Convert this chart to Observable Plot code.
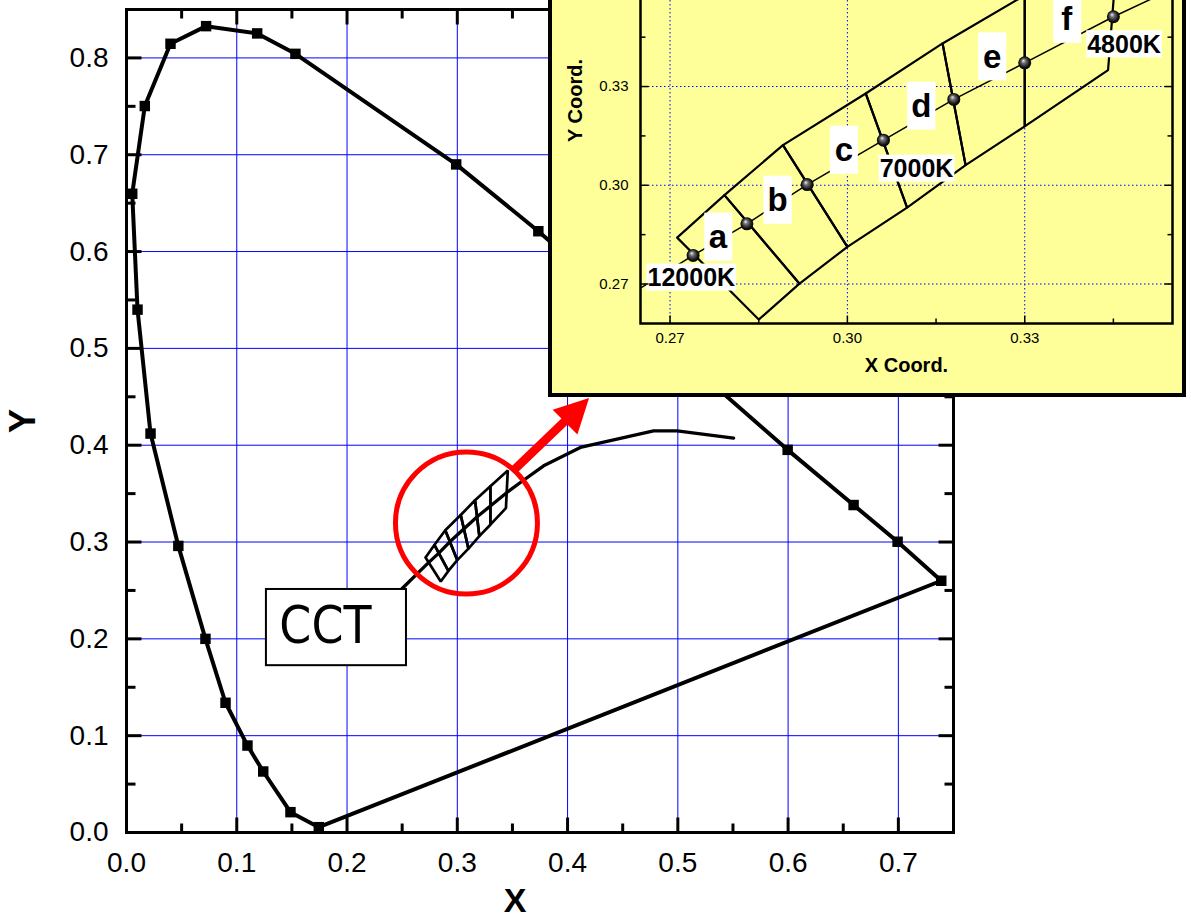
<!DOCTYPE html>
<html><head><meta charset="utf-8">
<script src="https://cdn.jsdelivr.net/npm/d3@7"></script>
<script src="https://cdn.jsdelivr.net/npm/@observablehq/plot@0.6"></script>
<style>
body{margin:0;background:#fff;overflow:hidden;}
#wrap{position:relative;width:1191px;height:919px;overflow:hidden;background:#fff;}
#main{position:absolute;left:0;top:0;}
#inset{position:absolute;left:548px;top:-60px;width:638px;height:457px;box-sizing:border-box;border:4px solid #000;background:#ffff99;}
#inset svg, #main svg{display:block;}
</style></head><body>
<div id="wrap"><div id="main"></div><div id="inset"></div></div>
<script>
const font = "'Liberation Sans', Arial, Helvetica, sans-serif";

// ---- data ----
const locusX = [0.1744, 0.1487, 0.124, 0.1097, 0.0898, 0.0716, 0.047, 0.0218, 0.010, 0.0052, 0.0166, 0.0399, 0.0722, 0.1185, 0.1532, 0.299, 0.3735, 0.5996, 0.6594, 0.6993, 0.7389];
const locusY = [0.0055, 0.0210, 0.063, 0.0898, 0.134, 0.200, 0.296, 0.412, 0.540, 0.6597, 0.7503, 0.8146, 0.8328, 0.8253, 0.8042, 0.690, 0.621, 0.3952, 0.3382, 0.3003, 0.2600];
const purpleX = [0.1744, 0.7389];
const purpleY = [0.0055, 0.2600];

const planckX = [0.250, 0.2739, 0.2830, 0.2932, 0.3061, 0.3180, 0.3300, 0.3450, 0.3572, 0.3783, 0.4116, 0.4780, 0.4993, 0.5506];
const planckY = [0.252, 0.2787, 0.2883, 0.3002, 0.3137, 0.3261, 0.3372, 0.3512, 0.3615, 0.3787, 0.3977, 0.4149, 0.4149, 0.4073];

const cctDotX = [0.2739, 0.2830, 0.2932, 0.3061, 0.3180, 0.3300, 0.3450];
const cctDotY = [0.2787, 0.2883, 0.3002, 0.3137, 0.3261, 0.3372, 0.3512];

const binNames = ["a", "b", "c", "d", "e", "f"];
const upperX = [0.2712, 0.2792, 0.2891, 0.3031, 0.3161, 0.3300, 0.3458];
const upperY = [0.2841, 0.2970, 0.3122, 0.3279, 0.3431, 0.3577, 0.3740];
const lowerX = [0.2850, 0.2919, 0.3000, 0.3101, 0.3200, 0.3300, 0.3441];
const lowerY = [0.2592, 0.2701, 0.2813, 0.2932, 0.3061, 0.3179, 0.3350];
const binLabelX = [0.2781, 0.2882, 0.2994, 0.3125, 0.3245, 0.3371];
const binLabelY = [0.2841, 0.2953, 0.3105, 0.3239, 0.3389, 0.3503];

const tempNames = ["12000K", "7000K", "4800K"];
const tempX = [0.2736, 0.3117, 0.3468];
const tempY = [0.2718, 0.3049, 0.3427];

const cctBox = {x1: 0.1269, x2: 0.2539, y1: 0.1723, y2: 0.2510};
const cctText = {label: "CCT", x: 0.1804, y: 0.2121};
const zoomCircle = {x: 0.3083, y: 0.3197};
const arrowSeg = {x1: 0.351, y1: 0.374, x2: 0.4195, y2: 0.4487};

const mainXTicks = [0, 0.1, 0.2, 0.3, 0.4, 0.5, 0.6, 0.7];
const mainXMinor = [0.05, 0.15, 0.25, 0.35, 0.45, 0.55, 0.65];
const mainYTicks = [0, 0.1, 0.2, 0.3, 0.4, 0.5, 0.6, 0.7, 0.8];
const mainYMinor = [0.05, 0.15, 0.25, 0.35, 0.45, 0.55, 0.65, 0.75];
const insetTicks = [0.27, 0.30, 0.33];
const insetMinor = [0.285, 0.315, 0.345];

// ---- derived tables ----
const locus = locusX.map((x, i) => ({x, y: locusY[i]}));
const purple = purpleX.map((x, i) => ({x, y: purpleY[i]}));
const planck = planckX.map((x, i) => ({x, y: planckY[i]}));
const cctDots = cctDotX.map((x, i) => ({x, y: cctDotY[i]}));
const binRows = binNames.flatMap((b, i) => [
  [upperX[i], upperY[i]], [upperX[i + 1], upperY[i + 1]],
  [lowerX[i + 1], lowerY[i + 1]], [lowerX[i], lowerY[i]], [upperX[i], upperY[i]]
].map(([x, y]) => ({bin: b, x, y})));
const binLabels = binNames.map((t, i) => ({t, x: binLabelX[i], y: binLabelY[i]}));
const tempLabels = tempNames.map((t, i) => ({t, x: tempX[i], y: tempY[i]}));

const tickShape = {draw(ctx, l) { ctx.moveTo(0, 0); ctx.lineTo(0, -l); }};
function frameTicks(xd, yd, xMaj, xMin, yMaj, yMin, major, minor, sw) {
  const c = {stroke: "black", fill: "none", strokeWidth: sw, anchor: "start", shape: tickShape, strokeLinecap: "butt"};
  const out = [];
  for (const [vals, len] of [[xMaj, major], [xMin, minor]]) {
    out.push(Plot.vector(vals, {x: d => d, y: yd[0], length: len, rotate: 0, ...c}));
    out.push(Plot.vector(vals, {x: d => d, y: yd[1], length: len, rotate: 180, ...c}));
  }
  for (const [vals, len] of [[yMaj, major], [yMin, minor]]) {
    out.push(Plot.vector(vals, {y: d => d, x: xd[0], length: len, rotate: 90, ...c}));
    out.push(Plot.vector(vals, {y: d => d, x: xd[1], length: len, rotate: -90, ...c}));
  }
  return out;
}

const arrowHead = {draw(ctx) { ctx.moveTo(0, 0); ctx.lineTo(-17.5, 34); ctx.lineTo(17.5, 34); ctx.closePath(); }};

// ---- main chart ----
const mainXD = [0, 0.75], mainYD = [0, 0.85];
const main = Plot.plot({
  width: 1191, height: 919,
  marginTop: 9, marginLeft: 126, marginRight: 238, marginBottom: 87,
  x: {domain: mainXD}, y: {domain: mainYD},
  style: {fontFamily: font, background: "white", color: "black", overflow: "visible"},
  marks: [
    Plot.ruleX(mainXTicks.slice(1), {stroke: "#0000ff", strokeWidth: 1}),
    Plot.ruleY(mainYTicks.slice(1), {stroke: "#0000ff", strokeWidth: 1}),
    Plot.line(locus, {x: "x", y: "y", stroke: "black", strokeWidth: 4}),
    Plot.line(purple, {x: "x", y: "y", stroke: "black", strokeWidth: 4}),
    Plot.dot(locus, {x: "x", y: "y", symbol: "square", r: 5.9, fill: "black"}),
    Plot.line(planck, {x: "x", y: "y", stroke: "black", strokeWidth: 3.3}),
    Plot.rect([cctBox], {x1: "x1", x2: "x2", y1: "y1", y2: "y2", fill: "white", stroke: "black", strokeWidth: 2}),
    Plot.text([cctText], {x: "x", y: "y", text: "label", fontSize: 51, fontFamily: "'Liberation Sans Narrow', 'Arial Narrow', 'DejaVu Sans Condensed', sans-serif", fill: "black"}),
    Plot.line(binRows, {x: "x", y: "y", z: "bin", stroke: "black", strokeWidth: 2.7, strokeLinejoin: "miter"}),
    Plot.dot([zoomCircle], {x: "x", y: "y", r: 71, stroke: "#ff0000", strokeWidth: 5, fill: "none"}),
    Plot.arrow([arrowSeg], {x1: "x1", y1: "y1", x2: "x2", y2: "y2", stroke: "#ff0000", strokeWidth: 8.5, headLength: 0, insetEnd: 28, strokeLinecap: "butt"}),
    Plot.dot([arrowSeg], {x: "x2", y: "y2", symbol: arrowHead, r: 5, rotate: 45, fill: "#ff0000", stroke: "none"}),
    ...frameTicks(mainXD, mainYD, mainXTicks, mainXMinor, mainYTicks, mainYMinor, 15, 9, 3),
    Plot.axisX(mainXTicks, {tickSize: 0, tickPadding: 20, fontSize: 28, tickFormat: d3.format(".1f"), label: null}),
    Plot.axisY(mainYTicks, {tickSize: 0, tickPadding: 18, fontSize: 28, tickFormat: d3.format(".1f"), label: null}),
    Plot.frame({stroke: "black", strokeWidth: 3}),
    Plot.text(["X"], {frameAnchor: "bottom", dx: -25, dy: 69, lineAnchor: "middle", fontSize: 34, fontWeight: "bold", fill: "black"}),
    Plot.text(["Y"], {frameAnchor: "left", dx: -103, dy: 12, rotate: -90, lineAnchor: "middle", fontSize: 36, fontWeight: "bold", fill: "black"})
  ]
});
document.getElementById("main").append(main);

// ---- inset ----
const insetXD = [0.265, 0.355], insetYD = [0.258, 0.3683];
const sphereDefs = () => {
  const defs = d3.create("svg:defs");
  const g = defs.append("radialGradient").attr("id", "sphere")
    .attr("cx", "50%").attr("cy", "50%").attr("r", "55%").attr("fx", "38%").attr("fy", "32%");
  g.append("stop").attr("offset", "0%").attr("stop-color", "#f0f0f0");
  g.append("stop").attr("offset", "30%").attr("stop-color", "#707070");
  g.append("stop").attr("offset", "75%").attr("stop-color", "#101010");
  g.append("stop").attr("offset", "100%").attr("stop-color", "#000");
  return defs.node();
};
const inset = Plot.plot({
  width: 630, height: 449,
  marginTop: 16, marginBottom: 70, marginLeft: 88, marginRight: 10,
  x: {domain: insetXD}, y: {domain: insetYD},
  style: {fontFamily: font, background: "transparent", color: "black", overflow: "visible"},
  marks: [
    sphereDefs,
    Plot.ruleX(insetTicks, {stroke: "#0000ff", strokeWidth: 1, strokeDasharray: "1.5,2.5"}),
    Plot.ruleY(insetTicks, {stroke: "#0000ff", strokeWidth: 1, strokeDasharray: "1.5,2.5"}),
    Plot.line(planck, {x: "x", y: "y", stroke: "black", strokeWidth: 1.5, clip: true}),
    Plot.line(binRows, {x: "x", y: "y", z: "bin", stroke: "black", strokeWidth: 2.2, strokeLinejoin: "miter", clip: true}),
    Plot.dot(cctDots, {x: "x", y: "y", r: 6.5, fill: "url(#sphere)", stroke: "none", clip: true}),
    Plot.text(binLabels, {x: "x", y: "y", text: "t", fontSize: 33, fontWeight: "bold", fill: "black", clip: true}),
    Plot.text(tempLabels, {x: "x", y: "y", text: "t", fontSize: 25, fontWeight: "bold", fill: "black", clip: true}),
    ...frameTicks(insetXD, insetYD, insetTicks, insetMinor, insetTicks, insetMinor, 8, 5, 1.5),
    Plot.axisX(insetTicks, {tickSize: 0, tickPadding: 9, fontSize: 15, tickFormat: d3.format(".2f"), label: null}),
    Plot.axisY(insetTicks, {tickSize: 0, tickPadding: 12, fontSize: 15, tickFormat: d3.format(".2f"), label: null}),
    Plot.frame({stroke: "black", strokeWidth: 2.5}),
    Plot.text(["X Coord."], {frameAnchor: "bottom", dy: 42, lineAnchor: "middle", fontSize: 20, fontWeight: "bold", fill: "black"}),
    Plot.text(["Y Coord."], {frameAnchor: "left", dx: -65, rotate: -90, lineAnchor: "middle", fontSize: 20, fontWeight: "bold", fill: "black"})
  ]
});
document.getElementById("inset").append(inset);

// white label boxes behind inset labels (found by their text)
function addBoxes(svg, names, minW, padW, h) {
  const nodes = Array.from(svg.querySelectorAll("text")).filter(n => names.includes(n.textContent.trim()));
  for (const node of nodes) {
    const b = node.getBBox();
    const w = Math.max(minW, b.width + padW);
    const cx = b.x + b.width / 2, cy = b.y + b.height / 2;
    const r = document.createElementNS("http://www.w3.org/2000/svg", "rect");
    r.setAttribute("x", cx - w / 2);
    r.setAttribute("y", cy - h / 2);
    r.setAttribute("width", w);
    r.setAttribute("height", h);
    r.setAttribute("fill", "white");
    const t = node.getAttribute("transform");
    if (t) r.setAttribute("transform", t);
    node.parentNode.insertBefore(r, node);
  }
}
addBoxes(inset, binNames, 28, 8, 48);
addBoxes(inset, tempNames, 0, 2, 27);
</script>
</body></html>
